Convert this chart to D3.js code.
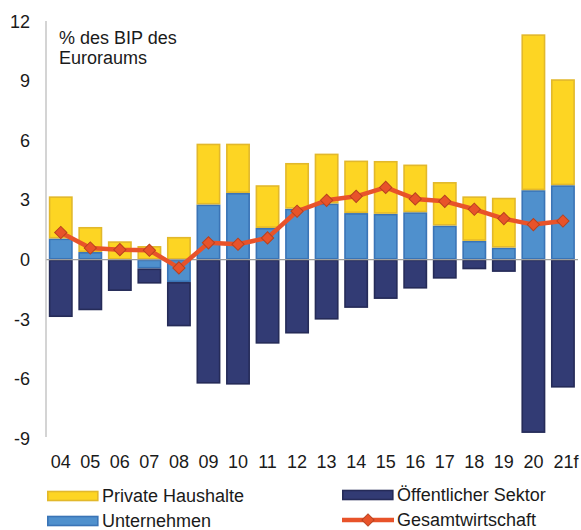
<!DOCTYPE html>
<html>
<head>
<meta charset="utf-8">
<script src="https://cdn.jsdelivr.net/npm/d3@7"></script>
<style>
  body { margin: 0; background: #fff; }
  text { font-family: "Liberation Sans", Arial, sans-serif; fill: #1a1a1a; }
</style>
</head>
<body>
<script>
var width = 581;
var height = 530;

// ******* data *******
var years = ["04","05","06","07","08","09","10","11","12","13","14","15","16","17","18","19","20","21f"];
var unternehmen  = [1.06, 0.38, 0.00, -0.45, -1.13, 2.77, 3.35, 1.59, 2.56, 2.82, 2.34, 2.30, 2.38, 1.71, 0.94, 0.60, 3.49, 3.74];
var haushalte    = [2.12, 1.26, 0.92, 0.68, 1.14, 3.06, 2.48, 2.15, 2.30, 2.51, 2.64, 2.66, 2.40, 2.19, 2.24, 2.51, 7.84, 5.33];
var oeffentlich  = [-2.89, -2.55, -1.58, -0.76, -2.23, -6.24, -6.29, -4.23, -3.72, -3.02, -2.43, -1.98, -1.46, -0.96, -0.49, -0.62, -8.72, -6.44];
var gesamt       = [1.36, 0.58, 0.50, 0.47, -0.42, 0.84, 0.77, 1.09, 2.43, 2.98, 3.18, 3.63, 3.05, 2.93, 2.53, 2.06, 1.76, 1.94];
var yTicks = [-9, -6, -3, 0, 3, 6, 9, 12];

var seriesKeys = ["unternehmen", "haushalte", "oeffentlich"];
var fills   = {unternehmen: "#4f90cd", haushalte: "#fdd523", oeffentlich: "#323b74"};
var strokes = {unternehmen: "#3a74b6", haushalte: "#e2b82b", oeffentlich: "#252b58"};
var lineColor = "#e8532a";

var rows = years.map(function(y, i){
    return {year: y, unternehmen: unternehmen[i], haushalte: haushalte[i], oeffentlich: oeffentlich[i], gesamt: gesamt[i]};
});

var svg = d3.select("body").append("svg")
    .attr("width", width)
    .attr("height", height);

var x = d3.scaleBand()
    .domain(years)
    .range([46, 577.7])
    .paddingInner(0.19)
    .paddingOuter(0.095);

var y = d3.scaleLinear()
    .domain([-9, 12])
    .range([438.5, 21]);

var stack = d3.stack()
    .keys(seriesKeys)
    .offset(d3.stackOffsetDiverging);
var stacked = stack(rows);

//*********** bars *******************
svg.append("g").selectAll("g")
    .data(stacked)
    .enter().append("g")
    .attr("fill", function(d){ return fills[d.key]; })
    .attr("stroke", function(d){ return strokes[d.key]; })
    .attr("stroke-width", 1.6)
    .selectAll("rect")
    .data(function(d){ return d; })
    .enter().append("rect")
    .attr("x", function(d){ return x(d.data.year) + 0.8; })
    .attr("width", x.bandwidth() - 1.6)
    .attr("y", function(d){ return y(d[1]) + 0.8; })
    .attr("height", function(d){ return Math.max(0, y(d[0]) - y(d[1]) - 1.6); });

//*********** axes *******************
svg.append("line")
    .attr("x1", 46).attr("x2", 578)
    .attr("y1", y(0)).attr("y2", y(0))
    .attr("stroke", "#9d9d9d")
    .attr("stroke-width", 1.3);

svg.append("line")
    .attr("x1", 46).attr("x2", 46)
    .attr("y1", y(12)).attr("y2", y(-9) - 1.5)
    .attr("stroke", "#bdbdbd")
    .attr("stroke-width", 1.3);

svg.append("g").selectAll("text")
    .data(yTicks)
    .enter().append("text")
    .attr("x", 30)
    .attr("y", function(d){ return y(d) + 6.5; })
    .attr("text-anchor", "end")
    .style("font-size", "18px")
    .text(function(d){ return d; });

svg.append("g").selectAll("text")
    .data(years)
    .enter().append("text")
    .attr("x", function(d){ return x(d) + x.bandwidth()/2 + (d.length > 2 ? 3 : 0); })
    .attr("y", 467.5)
    .attr("text-anchor", "middle")
    .style("font-size", "18px")
    .text(function(d){ return d; });

svg.append("text")
    .attr("x", 59)
    .attr("y", 43.5)
    .style("font-size", "18px")
    .text("% des BIP des");
svg.append("text")
    .attr("x", 59)
    .attr("y", 63.5)
    .style("font-size", "18px")
    .text("Euroraums");

//*********** Gesamtwirtschaft line *******************
var line = d3.line()
    .x(function(d){ return x(d.year) + x.bandwidth()/2; })
    .y(function(d){ return y(d.gesamt); });

svg.append("path")
    .datum(rows)
    .attr("d", line)
    .attr("fill", "none")
    .attr("stroke", lineColor)
    .attr("stroke-width", 4.5)
    .attr("stroke-linejoin", "round");

var diamond = d3.symbol().type(d3.symbolSquare).size(75);
svg.append("g").selectAll("path")
    .data(rows)
    .enter().append("path")
    .attr("d", diamond)
    .attr("transform", function(d){
        return "translate(" + (x(d.year) + x.bandwidth()/2) + "," + y(d.gesamt) + ") rotate(45)";
    })
    .attr("fill", lineColor)
    .attr("stroke", "#b8421f")
    .attr("stroke-width", 1);

//*********** legend *******************
var legendItems = [
    {label: "Private Haushalte", key: "haushalte", lx: 47, ly: 496},
    {label: "Unternehmen", key: "unternehmen", lx: 47, ly: 521},
    {label: "Öffentlicher Sektor", key: "oeffentlich", lx: 342, ly: 495}
];
var legend = svg.append("g");
legendItems.forEach(function(it){
    legend.append("rect")
        .attr("x", it.lx + 0.8)
        .attr("y", it.ly - 4.5)
        .attr("width", 50)
        .attr("height", 9)
        .attr("fill", fills[it.key])
        .attr("stroke", strokes[it.key])
        .attr("stroke-width", 1.6);
    legend.append("text")
        .attr("x", it.lx + 55)
        .attr("y", it.ly + 6.3)
        .style("font-size", "18px")
        .text(it.label);
});

legend.append("line")
    .attr("x1", 342).attr("x2", 394)
    .attr("y1", 520).attr("y2", 520)
    .attr("stroke", lineColor)
    .attr("stroke-width", 4.5);
legend.append("path")
    .attr("d", diamond)
    .attr("transform", "translate(368,520) rotate(45)")
    .attr("fill", lineColor)
    .attr("stroke", "#b8421f")
    .attr("stroke-width", 1);
legend.append("text")
    .attr("x", 397)
    .attr("y", 526.3)
    .style("font-size", "18px")
    .text("Gesamtwirtschaft");
</script>
</body>
</html>
